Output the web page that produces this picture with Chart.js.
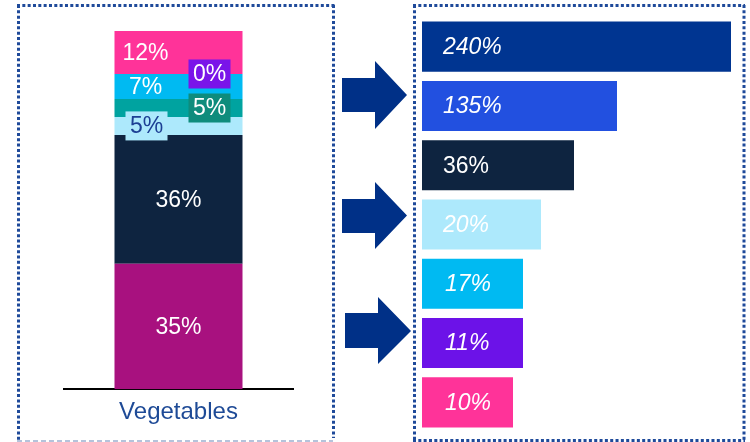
<!DOCTYPE html>
<html><head><meta charset="utf-8">
<script src="https://cdn.jsdelivr.net/npm/chart.js@4"></script>
<style>
html,body{margin:0;padding:0;background:#fff;width:750px;height:442px;overflow:hidden}
#wrap{position:relative;width:750px;height:442px}
#left{position:absolute;left:0;top:0;width:340px;height:442px}
#right{position:absolute;left:340px;top:0;width:410px;height:442px}
svg{position:absolute;left:0;top:0;pointer-events:none}
</style></head><body>
<div id="wrap">
<canvas id="left" width="340" height="442"></canvas>
<canvas id="right" width="410" height="442"></canvas>
<svg width="750" height="442" viewBox="0 0 750 442">
  <g stroke="#1F4A9A" stroke-width="3" stroke-dasharray="3 2.33" fill="none">
    <line x1="17" y1="5.5" x2="335" y2="5.5"/>
    <line x1="18.5" y1="5" x2="18.5" y2="440"/>
    <line x1="333.5" y1="5" x2="333.5" y2="438"/>
    <line x1="413" y1="5.5" x2="745" y2="5.5"/>
    <line x1="414.5" y1="5" x2="414.5" y2="441"/>
    <line x1="744" y1="5" x2="744" y2="441"/>
    <line x1="413" y1="440.5" x2="745" y2="440.5"/>
  </g>
  <line x1="17" y1="441" x2="333" y2="441" stroke="#9DB0D0" stroke-width="1.5" stroke-dasharray="5 3"/>
  <g fill="#003087">
    <polygon points="342,78 375,78 375,61 407,95 375,129 375,112 342,112"/>
    <polygon points="342,199 375,199 375,182 407,215.5 375,249 375,233 342,233"/>
    <polygon points="345,313 378,313 378,297 411,331 378,364 378,348 345,348"/>
  </g>
</svg>
</div>
<script>
// ---- Data: left stacked column ----
const stackCategories = ['Vegetables'];
const stackValues = [35, 36, 5, 5, 7, 0, 12];
const stackLabels = ['35%', '36%', '5%', '5%', '7%', '0%', '12%'];
const stackColors = ['#A8117F', '#0E2440', '#ADE9FC', '#00A3A0', '#00BAF2', '#7A14E9', '#FF3399'];

// ---- Data: right horizontal bars ----
const barLabels = ['240%', '135%', '36%', '20%', '17%', '11%', '10%'];
const barLengths = [309, 195, 152, 119, 101, 101, 91];
const barColors = ['#003591', '#2250E0', '#0E2440', '#ADE9FC', '#00BAF2', '#6C12E8', '#FF3399'];

// ---- Label styles ----
const stackLabelStyle = [
  {dx: 0},
  {dx: 0},
  {dx: -32, box: '#ADE9FC', color: '#1C3F94', w: 42, h: 29},
  {dx: 31, box: '#0E8C7C', w: 42, h: 29},
  {dx: -33},
  {dx: 31, box: '#7A14E9', w: 42, h: 29},
  {dx: -33}
];
const barLabelStyle = [
  {italic: true, dx: 21}, {italic: true, dx: 21}, {italic: false, dx: 21},
  {italic: true, dx: 21}, {italic: true, dx: 23}, {italic: true, dx: 23}, {italic: true, dx: 23}
];
const FONT = '"Liberation Sans", Arial, sans-serif';

const stackLabelPlugin = {
  id: 'stackLabels',
  afterDraw(chart) {
    const ctx = chart.ctx;
    ctx.save();
    chart.data.datasets.forEach((ds, i) => {
      const el = chart.getDatasetMeta(i).data[0];
      const st = stackLabelStyle[i];
      const cx = el.x + st.dx;
      const cy = (el.y + el.base) / 2;
      if (st.box) {
        ctx.fillStyle = st.box;
        ctx.fillRect(cx - st.w / 2, cy - st.h / 2, st.w, st.h);
      }
      ctx.fillStyle = st.color || '#FFFFFF';
      ctx.font = '23px ' + FONT;
      ctx.textAlign = 'center';
      ctx.textBaseline = 'middle';
      ctx.fillText(stackLabels[i], cx, cy + 1);
    });
    ctx.restore();
  }
};

new Chart(document.getElementById('left'), {
  type: 'bar',
  data: {
    labels: stackCategories,
    datasets: stackValues.map((v, i) => ({
      data: [v],
      backgroundColor: stackColors[i],
      borderWidth: 0,
      barPercentage: 0.559,
      categoryPercentage: 1
    }))
  },
  options: {
    responsive: false,
    animation: false,
    plugins: {legend: {display: false}, tooltip: {enabled: false}},
    layout: {padding: {left: 64, right: 47, top: 31, bottom: 6}},
    scales: {
      x: {
        stacked: true,
        z: 1,
        grid: {display: false, drawTicks: false},
        border: {display: true, color: '#000000', width: 2},
        ticks: {color: '#1E4A96', font: {family: FONT, size: 24}, padding: 9}
      },
      y: {stacked: true, display: false, min: 0, max: 100}
    }
  },
  plugins: [stackLabelPlugin]
});

const barLabelPlugin = {
  id: 'barLabels',
  afterDatasetsDraw(chart) {
    const ctx = chart.ctx;
    ctx.save();
    chart.getDatasetMeta(0).data.forEach((el, i) => {
      const st = barLabelStyle[i];
      ctx.fillStyle = '#FFFFFF';
      ctx.font = (st.italic ? 'italic ' : '') + '23px ' + FONT;
      ctx.textAlign = 'left';
      ctx.textBaseline = 'middle';
      ctx.fillText(barLabels[i], el.base + st.dx, el.y + 1);
    });
    ctx.restore();
  }
};

new Chart(document.getElementById('right'), {
  type: 'bar',
  data: {
    labels: barLabels,
    datasets: [{
      data: barLengths,
      backgroundColor: barColors,
      borderWidth: 0,
      barPercentage: 0.844,
      categoryPercentage: 1
    }]
  },
  options: {
    indexAxis: 'y',
    responsive: false,
    animation: false,
    plugins: {legend: {display: false}, tooltip: {enabled: false}},
    layout: {padding: {left: 82, right: 8, top: 17, bottom: 10}},
    scales: {
      x: {display: false, min: 0, max: 320},
      y: {display: false}
    }
  },
  plugins: [barLabelPlugin]
});
</script>
</body></html>
